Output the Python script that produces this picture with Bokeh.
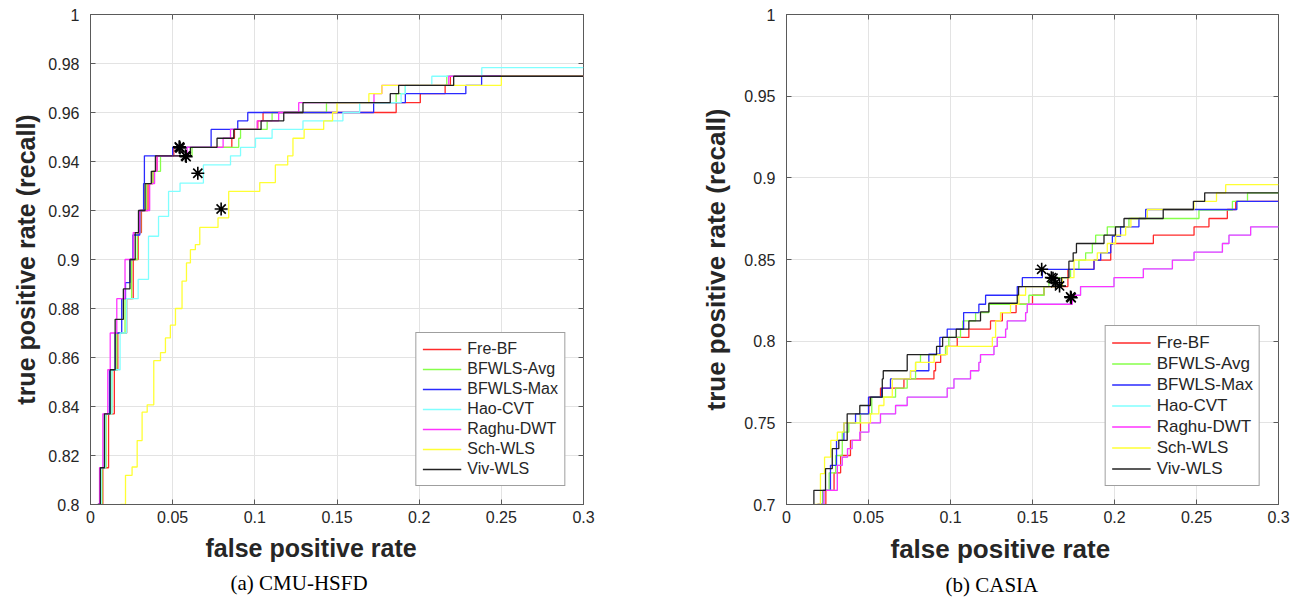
from bokeh.plotting import figure
from bokeh.models import FixedTicker, LinearAxis, Legend, LegendItem, Title, Range1d
from bokeh.layouts import row
from bokeh.embed import file_html
from bokeh.resources import INLINE

names = ["Fre-BF", "BFWLS-Avg", "BFWLS-Max", "Hao-CVT", "Raghu-DWT", "Sch-WLS", "Viv-WLS"]
colors = ["#ff2a2a", "#86ff4a", "#2a2aff", "#80ffff", "#ff33ff", "#ffff33", "#222222"]

x_ticks = [0, 0.05, 0.1, 0.15, 0.2, 0.25, 0.3]
x_tick_labels = ["0", "0.05", "0.1", "0.15", "0.2", "0.25", "0.3"]
y_ticks_a = [0.8, 0.82, 0.84, 0.86, 0.88, 0.9, 0.92, 0.94, 0.96, 0.98, 1.0]
y_tick_labels_a = ["0.8", "0.82", "0.84", "0.86", "0.88", "0.9", "0.92", "0.94", "0.96", "0.98", "1"]
y_ticks_b = [0.7, 0.75, 0.8, 0.85, 0.9, 0.95, 1.0]
y_tick_labels_b = ["0.7", "0.75", "0.8", "0.85", "0.9", "0.95", "1"]

# ---------------- (a) CMU-HSFD ----------------
a_fre_fpr = [0.005, 0.0075, 0.011, 0.0145, 0.0166, 0.022, 0.026, 0.029, 0.031, 0.035, 0.038, 0.0405, 0.0507, 0.086, 0.0876, 0.1018, 0.105, 0.186, 0.2007, 0.2158, 0.219, 0.30]
a_fre_tpr = [0.80, 0.815, 0.837, 0.855, 0.87, 0.884, 0.90, 0.911, 0.920, 0.931, 0.936, 0.9423, 0.9458, 0.9495, 0.9531, 0.9566, 0.960, 0.964, 0.9677, 0.9711, 0.9748, 0.9748]
a_avg_fpr = [0.005, 0.007, 0.0095, 0.013, 0.016, 0.021, 0.025, 0.0285, 0.0305, 0.034, 0.038, 0.0426, 0.0618, 0.0902, 0.0913, 0.1075, 0.1105, 0.1436, 0.186, 0.1916, 0.2168, 0.30]
a_avg_tpr = [0.80, 0.815, 0.837, 0.855, 0.87, 0.884, 0.90, 0.911, 0.920, 0.931, 0.936, 0.9423, 0.9458, 0.9495, 0.9531, 0.9566, 0.960, 0.964, 0.9677, 0.9711, 0.9748, 0.9748]
a_max_fpr = [0.0045, 0.006, 0.0085, 0.0115, 0.015, 0.019, 0.0213, 0.024, 0.0258, 0.030, 0.0323, 0.0328, 0.050, 0.0734, 0.0896, 0.0957, 0.1723, 0.1916, 0.2284, 0.238, 0.30]
a_max_tpr = [0.80, 0.815, 0.837, 0.855, 0.87, 0.884, 0.8906, 0.90, 0.91, 0.920, 0.931, 0.9423, 0.9458, 0.9531, 0.9566, 0.960, 0.964, 0.9677, 0.9711, 0.9748, 0.9748]
a_hao_fpr = [0.0045, 0.0065, 0.009, 0.013, 0.018, 0.022, 0.029, 0.0353, 0.0414, 0.0475, 0.0545, 0.0687, 0.0852, 0.0913, 0.1004, 0.1105, 0.1293, 0.1536, 0.1638, 0.189, 0.1916, 0.2077, 0.2381, 0.30]
a_hao_tpr = [0.80, 0.815, 0.837, 0.855, 0.87, 0.884, 0.8919, 0.9095, 0.9176, 0.9278, 0.9312, 0.9386, 0.9423, 0.9458, 0.9495, 0.9531, 0.9566, 0.960, 0.964, 0.9677, 0.9711, 0.9748, 0.9783, 0.9783]
a_rag_fpr = [0.004, 0.0055, 0.0075, 0.0105, 0.012, 0.016, 0.021, 0.026, 0.030, 0.036, 0.039, 0.0405, 0.0588, 0.0807, 0.0852, 0.1014, 0.1145, 0.1267, 0.1725, 0.1773, 0.218, 0.30]
a_rag_tpr = [0.80, 0.815, 0.837, 0.855, 0.87, 0.884, 0.90, 0.911, 0.920, 0.931, 0.936, 0.9423, 0.9458, 0.9495, 0.9531, 0.9566, 0.960, 0.964, 0.9677, 0.9711, 0.9748, 0.9748]
a_sch_fpr = [0.0182, 0.0213, 0.0253, 0.0284, 0.0314, 0.0345, 0.0385, 0.0426, 0.0456, 0.0486, 0.0517, 0.0557, 0.0584, 0.0608, 0.0638, 0.0665, 0.0776, 0.0841, 0.103, 0.1125, 0.12, 0.1232, 0.130, 0.1419, 0.1473, 0.150, 0.1694, 0.1773, 0.250, 0.30]
a_sch_tpr = [0.80, 0.8119, 0.8153, 0.8261, 0.8377, 0.8407, 0.8587, 0.862, 0.868, 0.8732, 0.880, 0.8912, 0.8986, 0.904, 0.9061, 0.9131, 0.917, 0.9278, 0.9314, 0.9386, 0.9423, 0.9495, 0.9531, 0.9566, 0.960, 0.964, 0.9677, 0.9711, 0.9748, 0.9748]
a_viv_fpr = [0.0045, 0.006, 0.0085, 0.012, 0.015, 0.020, 0.024, 0.0272, 0.0292, 0.0332, 0.037, 0.0395, 0.0608, 0.077, 0.0872, 0.1038, 0.1176, 0.1293, 0.1824, 0.1875, 0.221, 0.30]
a_viv_tpr = [0.80, 0.815, 0.837, 0.855, 0.8756, 0.888, 0.90, 0.911, 0.920, 0.931, 0.936, 0.9423, 0.9458, 0.9495, 0.9531, 0.9566, 0.960, 0.964, 0.9677, 0.9711, 0.9748, 0.9748]
a_star_fpr = [0.0541, 0.0578, 0.0545, 0.0653, 0.0582, 0.0795, 0.0541]
a_star_tpr = [0.9458, 0.9423, 0.9455, 0.9352, 0.9420, 0.9206, 0.9460]

# ---------------- (b) CASIA ----------------
b_fre_fpr = [0.0192, 0.024, 0.029, 0.033, 0.039, 0.0451, 0.0502, 0.0573, 0.0716, 0.0899, 0.0909, 0.094, 0.097, 0.1041, 0.1112, 0.1244, 0.1316, 0.140, 0.150, 0.157, 0.1716, 0.1875, 0.1977, 0.2237, 0.2485, 0.2576, 0.2688, 0.2739, 0.30]
b_fre_tpr = [0.70, 0.7087, 0.7194, 0.73, 0.7392, 0.7555, 0.7657, 0.7712, 0.7769, 0.7819, 0.787, 0.7917, 0.7968, 0.8023, 0.8074, 0.8124, 0.8175, 0.8226, 0.8281, 0.8334, 0.844, 0.8496, 0.8598, 0.8649, 0.870, 0.8751, 0.8806, 0.8856, 0.8856]
b_avg_fpr = [0.0187, 0.022, 0.026, 0.030, 0.034, 0.038, 0.045, 0.052, 0.0665, 0.0736, 0.0787, 0.0817, 0.097, 0.099, 0.1061, 0.1075, 0.1153, 0.1234, 0.1478, 0.157, 0.160, 0.1732, 0.1783, 0.1824, 0.1865, 0.1885, 0.1956, 0.2088, 0.2515, 0.2719, 0.2811, 0.30]
b_avg_tpr = [0.70, 0.7087, 0.7194, 0.73, 0.7443, 0.75, 0.7555, 0.7657, 0.7712, 0.7769, 0.7870, 0.7917, 0.7968, 0.8023, 0.8074, 0.8124, 0.8175, 0.8226, 0.8281, 0.8334, 0.8389, 0.844, 0.8496, 0.8541, 0.8598, 0.8649, 0.870, 0.8751, 0.8802, 0.8856, 0.8908, 0.8908]
b_max_fpr = [0.0197, 0.0225, 0.0268, 0.0305, 0.035, 0.0421, 0.050, 0.058, 0.0634, 0.0756, 0.0868, 0.0935, 0.098, 0.108, 0.1173, 0.1214, 0.1407, 0.1438, 0.156, 0.1875, 0.1916, 0.1977, 0.1987, 0.2037, 0.2149, 0.219, 0.2746, 0.30]
b_max_tpr = [0.70, 0.7087, 0.724, 0.7392, 0.75, 0.7555, 0.7657, 0.7712, 0.7769, 0.7819, 0.7921, 0.8023, 0.8074, 0.8175, 0.8226, 0.8281, 0.8334, 0.8389, 0.844, 0.8496, 0.8541, 0.8592, 0.8643, 0.870, 0.8751, 0.8806, 0.8856, 0.8856]
b_hao_fpr = [0.0187, 0.0228, 0.031, 0.034, 0.0372, 0.040, 0.0447, 0.0502, 0.0573, 0.0665, 0.0736, 0.098, 0.1021, 0.1122, 0.1173, 0.1183, 0.1265, 0.1285, 0.1336, 0.1346, 0.1458, 0.1468, 0.1743, 0.1793, 0.1997, 0.2176, 0.2353, 0.2485, 0.2658, 0.2698, 0.283, 0.30]
b_hao_tpr = [0.70, 0.7087, 0.724, 0.729, 0.7342, 0.7392, 0.7443, 0.75, 0.7555, 0.7606, 0.7657, 0.7712, 0.7769, 0.7819, 0.787, 0.7917, 0.7968, 0.8023, 0.8074, 0.8124, 0.8175, 0.8226, 0.8281, 0.8334, 0.8389, 0.8443, 0.8496, 0.8545, 0.8598, 0.8649, 0.870, 0.870]
b_rag_fpr = [0.0187, 0.0228, 0.031, 0.034, 0.0372, 0.040, 0.0447, 0.0502, 0.0573, 0.0665, 0.0736, 0.098, 0.1021, 0.1122, 0.1173, 0.1183, 0.1265, 0.1285, 0.1336, 0.1346, 0.1458, 0.1468, 0.1743, 0.1793, 0.1997, 0.2176, 0.2353, 0.2485, 0.2658, 0.2698, 0.283, 0.30]
b_rag_tpr = [0.70, 0.7087, 0.724, 0.729, 0.7342, 0.7392, 0.7443, 0.75, 0.7555, 0.7606, 0.7657, 0.7712, 0.7769, 0.7819, 0.787, 0.7917, 0.7968, 0.8023, 0.8074, 0.8124, 0.8175, 0.8226, 0.8281, 0.8334, 0.8389, 0.8443, 0.8496, 0.8545, 0.8598, 0.8649, 0.870, 0.870]
b_sch_fpr = [0.0175, 0.0207, 0.0232, 0.027, 0.031, 0.035, 0.0512, 0.0563, 0.0594, 0.0645, 0.0756, 0.0787, 0.0900, 0.098, 0.1255, 0.1275, 0.1305, 0.1366, 0.1417, 0.1458, 0.1682, 0.1753, 0.1895, 0.1956, 0.2007, 0.2068, 0.2100, 0.22, 0.2485, 0.2622, 0.2678, 0.30]
b_sch_tpr = [0.70, 0.7189, 0.729, 0.7392, 0.7443, 0.75, 0.7555, 0.7606, 0.7657, 0.7769, 0.7819, 0.787, 0.7917, 0.7968, 0.8023, 0.8124, 0.8175, 0.8226, 0.8281, 0.8334, 0.8389, 0.8496, 0.8541, 0.8598, 0.8649, 0.870, 0.8751, 0.8806, 0.8856, 0.8908, 0.8958, 0.8958]
b_viv_fpr = [0.0167, 0.0167, 0.0238, 0.0279, 0.0319, 0.037, 0.0447, 0.0512, 0.0584, 0.059, 0.0736, 0.0915, 0.0952, 0.1035, 0.1112, 0.1183, 0.1234, 0.1407, 0.1415, 0.1677, 0.1722, 0.1748, 0.1768, 0.1936, 0.2006, 0.2058, 0.2297, 0.2481, 0.255, 0.30]
b_viv_tpr = [0.70, 0.7087, 0.722, 0.7342, 0.7392, 0.7555, 0.7606, 0.7657, 0.7769, 0.7819, 0.7917, 0.7968, 0.8023, 0.8074, 0.8124, 0.8179, 0.8232, 0.8282, 0.8334, 0.8389, 0.849, 0.8541, 0.8598, 0.8649, 0.870, 0.8751, 0.8806, 0.8856, 0.8908, 0.8908]
b_star_fpr = [0.1556, 0.1615, 0.1625, 0.1641, 0.1665, 0.1732, 0.1736]
b_star_tpr = [0.844, 0.8389, 0.8385, 0.8358, 0.8338, 0.8271, 0.8266]

AXIS_COLOR = "#5a5a5a"
TEXT_COLOR = "#262626"
FONT = "Liberation Sans"


def make_panel(curves, stars, y_range, y_ticks, y_tick_labels, caption,
               width, left, right, xlab_offset, cap_offset, ylab_standoff,
               label_size, legend_size, legend_row):
    p = figure(width=width, height=598, x_range=Range1d(0, 0.3), y_range=Range1d(*y_range),
               output_backend="svg", toolbar_location=None,
               min_border_left=left, min_border_right=right,
               min_border_top=14, min_border_bottom=92)
    p.outline_line_color = AXIS_COLOR
    p.outline_line_width = 1
    p.background_fill_color = "white"
    p.border_fill_color = "white"

    xt = FixedTicker(ticks=x_ticks)
    yt = FixedTicker(ticks=y_ticks)
    p.xaxis.ticker = xt
    p.yaxis.ticker = yt
    p.xaxis.major_label_overrides = dict(zip(x_ticks, x_tick_labels))
    p.yaxis.major_label_overrides = dict(zip(y_ticks, y_tick_labels))
    for ax in (p.xaxis, p.yaxis):
        ax.axis_line_color = AXIS_COLOR
        ax.major_tick_line_color = AXIS_COLOR
        ax.major_tick_in = 5
        ax.major_tick_out = 0
        ax.minor_tick_line_color = None
        ax.major_label_text_font = FONT
        ax.major_label_text_font_size = "16px"
        ax.major_label_text_color = TEXT_COLOR
    p.xaxis.major_label_standoff = 6
    p.yaxis.major_label_standoff = 11
    p.yaxis.axis_label = "true positive rate (recall)"
    p.yaxis.axis_label_text_font = FONT
    p.yaxis.axis_label_text_font_size = label_size
    p.yaxis.axis_label_text_font_style = "bold"
    p.yaxis.axis_label_text_color = TEXT_COLOR
    p.yaxis.axis_label_standoff = ylab_standoff

    # inward ticks on the top and right edges of the box (minor ticks only, no labels)
    for loc, tk in (("above", x_ticks), ("right", y_ticks)):
        ax = LinearAxis(ticker=FixedTicker(ticks=[], minor_ticks=tk), axis_line_color=None,
                        major_tick_line_color=None, minor_tick_line_color=AXIS_COLOR,
                        minor_tick_in=5, minor_tick_out=0)
        p.add_layout(ax, loc)

    p.xgrid.ticker = xt
    p.ygrid.ticker = yt
    p.xgrid.grid_line_color = "#e3e3e3"
    p.ygrid.grid_line_color = "#e3e3e3"

    items = []
    for (fx, fy), name, col in zip(curves, names, colors):
        r = p.step(fx, fy, mode="after", line_color=col, line_width=1.3)
        items.append(LegendItem(label=name, renderers=[r]))
    p.scatter(stars[0], stars[1], marker="asterisk", size=13, line_color="black", line_width=1.6)

    leg = Legend(items=items, location="bottom_right", margin=18, padding=6, spacing=0,
                 label_height=legend_row, glyph_height=legend_row, glyph_width=39, label_standoff=6,
                 border_line_color="#404040", border_line_width=1,
                 label_text_font=FONT, label_text_font_size=legend_size, label_text_color=TEXT_COLOR,
                 background_fill_alpha=1.0)
    p.add_layout(leg)

    p.add_layout(Title(text="false positive rate", align="left", offset=xlab_offset,
                       text_font=FONT, text_font_size=label_size, text_font_style="bold",
                       text_color=TEXT_COLOR, standoff=12), "below")
    p.add_layout(Title(text=caption, align="left", offset=cap_offset,
                       text_font="Liberation Serif", text_font_size="21px", text_font_style="normal",
                       text_color="black", standoff=3), "below")
    return p


curves_a = [(a_fre_fpr, a_fre_tpr), (a_avg_fpr, a_avg_tpr), (a_max_fpr, a_max_tpr), (a_hao_fpr, a_hao_tpr),
            (a_rag_fpr, a_rag_tpr), (a_sch_fpr, a_sch_tpr), (a_viv_fpr, a_viv_tpr)]
curves_b = [(b_fre_fpr, b_fre_tpr), (b_avg_fpr, b_avg_tpr), (b_max_fpr, b_max_tpr), (b_hao_fpr, b_hao_tpr),
            (b_rag_fpr, b_rag_tpr), (b_sch_fpr, b_sch_tpr), (b_viv_fpr, b_viv_tpr)]

pa = make_panel(curves_a, (a_star_fpr, a_star_tpr), (0.8, 1.0), y_ticks_a, y_tick_labels_a, "(a) CMU-HSFD",
                628, 90, 45, 115, 140, 5, "25px", "16px", 20)
pb = make_panel(curves_b, (b_star_fpr, b_star_tpr), (0.7, 1.0), y_ticks_b, y_tick_labels_b, "(b) CASIA",
                664, 158, 14, 104, 159, 10, "26px", "17px", 21)

layout = row(pa, pb)
open("out.html", "w").write(file_html(layout, INLINE))
